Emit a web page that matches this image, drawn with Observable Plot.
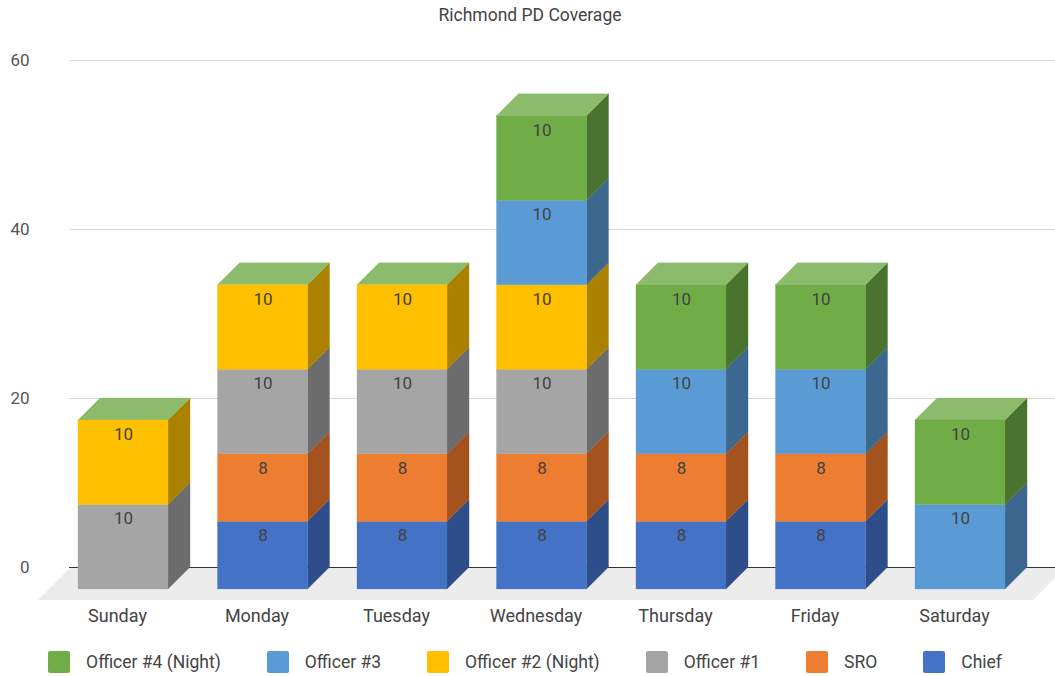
<!DOCTYPE html>
<html>
<head>
<meta charset="utf-8">
<script src="https://cdn.jsdelivr.net/npm/d3@7"></script>
<script src="https://cdn.jsdelivr.net/npm/@observablehq/plot@0.6"></script>
<style>
  html, body { margin: 0; padding: 0; background: #fff; }
  body { width: 1055px; height: 676px; position: relative; overflow: hidden; font-family: Roboto, "Noto Sans", sans-serif; }
  #title { position: absolute; left: 0; top: 5px; width: 1060px; text-align: center; font-size: 17.5px; color: #444; }
  #chart { position: absolute; left: 0; top: 0; }
  #legend { position: absolute; left: 0; top: 651px; width: 1050px; display: flex; justify-content: center; align-items: center; font-size: 17.5px; color: #444; }
  .item { display: flex; align-items: center; margin: 0 23px; }
  .sw { width: 22px; height: 22px; border-radius: 2px; margin-right: 16px; }
</style>
</head>
<body>
<div id="title">Richmond PD Coverage</div>
<div id="chart"></div>
<div id="legend"></div>
<script>
// ---- data ----
const days = ["Sunday", "Monday", "Tuesday", "Wednesday", "Thursday", "Friday", "Saturday"];
const seriesNames = ["Chief", "SRO", "Officer #1", "Officer #2 (Night)", "Officer #3", "Officer #4 (Night)"];
const chief    = [0, 8, 8, 8, 8, 8, 0];
const sro      = [0, 8, 8, 8, 8, 8, 0];
const officer1 = [10, 10, 10, 10, 0, 0, 0];
const officer2 = [10, 10, 10, 10, 0, 0, 0];
const officer3 = [0, 0, 0, 10, 10, 10, 10];
const officer4 = [0, 0, 0, 10, 10, 10, 10];
const yTicks = [0, 20, 40, 60];
const legendOrder = ["Officer #4 (Night)", "Officer #3", "Officer #2 (Night)", "Officer #1", "SRO", "Chief"];

// ---- styles ----
const frontColors = ["#4472c4", "#ed7d31", "#a5a5a5", "#ffc000", "#5b9bd5", "#70ad47"];
const sideColors  = ["#2d4e8a", "#a4531f", "#6c6c6c", "#ab8200", "#3c6890", "#4b7330"];
const topColor = "#8cbb6c";

const seriesValues = [chief, sro, officer1, officer2, officer3, officer4];
const HW = 0.3226;   // half width of front face (x units)
const DX = 0.158;    // depth in x units
const DY = 2.6;      // depth in y units

// stacked segments
const segs = [];
const tops = [];
days.forEach((d, i) => {
  let cum = 0;
  seriesValues.forEach((vals, s) => {
    const v = vals[i];
    segs.push({i, s, v, y1: cum, y2: cum + v});
    cum += v;
  });
  tops.push({i, top: cum});
});
const visible = segs.filter(d => d.v > 0);

const sidePts = visible.flatMap((d, k) => [
  {key: k, s: d.s, x: d.i + HW, y1: d.y1 - DY, y2: d.y2 - DY},
  {key: k, s: d.s, x: d.i + HW + DX, y1: d.y1, y2: d.y2}
]);
const topPts = tops.flatMap(t => [
  {key: t.i, y: t.top - DY, x1: t.i - HW, x2: t.i + HW},
  {key: t.i, y: t.top, x1: t.i - HW + DX, x2: t.i + HW + DX}
]);

const xScale = {domain: [-0.5, 6.5], range: [53.25, 1029.75]};
const toX = px => (px - 53.25) / 139.5 - 0.5;
const floorPts = [
  {y: -3.9, x1: toX(38), x2: toX(1033)},
  {y: 0, x1: toX(71), x2: toX(1066)}
];

const plot = Plot.plot({
  width: 1055,
  height: 640,
  marginLeft: 35,
  marginBottom: 40,
  marginTop: 0,
  marginRight: 0,
  x: {...xScale, type: "linear", axis: null},
  y: {domain: [0, 60], range: [567, 60], type: "linear"},
  style: {fontFamily: "Roboto, 'Noto Sans', sans-serif", background: "transparent"},
  marks: [
    Plot.areaX(floorPts, {y: "y", x1: "x1", x2: "x2", fill: "#ececec"}),
    Plot.ruleY(yTicks.filter(t => t > 0), {x1: toX(69), x2: toX(1055), stroke: "#d9d9d9", strokeWidth: 1}),
    Plot.ruleY([0], {x1: toX(69), x2: toX(1055), stroke: "#333", strokeWidth: 1}),
    Plot.axisY({ticks: yTicks, tickSize: 0, tickPadding: 6, fontSize: 17, color: "#555", tickFormat: d => d}),
    Plot.axisX({ticks: d3.range(days.length), tickFormat: i => days[i], tickSize: 0, tickPadding: 9, fontSize: 18, color: "#444", dx: -6}),
    Plot.areaY(sidePts, {x: "x", y1: "y1", y2: "y2", z: "key", fill: d => sideColors[d.s], stroke: d => sideColors[d.s], strokeWidth: 0.3}),
    Plot.areaX(topPts, {y: "y", x1: "x1", x2: "x2", z: "key", fill: topColor, stroke: topColor, strokeWidth: 0.3}),
    Plot.rect(visible, {x1: d => d.i - HW, x2: d => d.i + HW, y1: d => d.y1 - DY, y2: d => d.y2 - DY, fill: d => frontColors[d.s], stroke: d => frontColors[d.s], strokeWidth: 0.3}),
    Plot.text(visible, {x: "i", y: d => d.y2 - DY, dy: 14, text: d => String(d.v), fill: "#424242", fontSize: 17})
  ]
});
document.getElementById("chart").appendChild(plot);

// legend
const legend = document.getElementById("legend");
legendOrder.forEach(name => {
  const s = seriesNames.indexOf(name);
  const item = document.createElement("div");
  item.className = "item";
  const sw = document.createElement("div");
  sw.className = "sw";
  sw.style.background = frontColors[s];
  const label = document.createElement("span");
  label.textContent = name;
  item.appendChild(sw);
  item.appendChild(label);
  legend.appendChild(item);
});
</script>
</body>
</html>
